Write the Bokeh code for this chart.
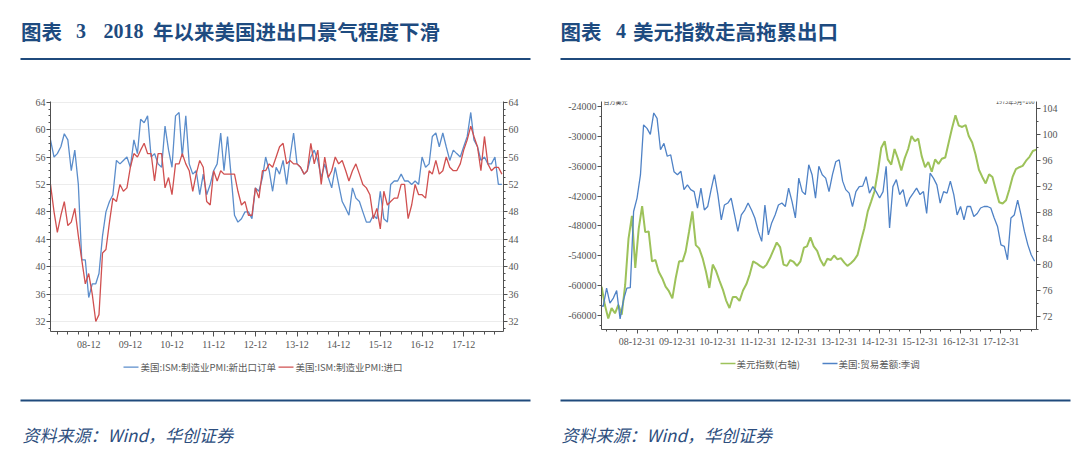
import pandas as pd
from datetime import datetime
from bokeh.plotting import figure
from bokeh.layouts import column, row
from bokeh.models import (Range1d, LinearAxis, FixedTicker, DatetimeTickFormatter,
                          NumeralTickFormatter, Label)
from bokeh.core.properties import value
from bokeh.embed import file_html
from bokeh.resources import INLINE

# ---------------- data ----------------
# Left chart: US ISM manufacturing PMI sub-indices, monthly Jan 2008 - Nov 2018
ism_new_export = [
    58.5, 56, 56.5, 57.5, 59.4, 58.5, 54, 57, 52, 41, 41, 35.5,
    37.5, 37.5, 39, 44.5, 48, 49.5, 50.5, 55.5, 55, 55.5, 56, 54.5,
    58.5, 56.5, 61.5, 61, 62, 56, 56.5, 55, 54.5, 60.5, 57, 54.5,
    62, 62.5, 56, 62, 55, 53.5, 54, 50.5, 53.5, 50.5, 52, 54,
    55, 59.5, 54, 59, 53.5, 47.5, 46.5, 47, 48, 48, 47, 51.5,
    51, 53, 56, 54, 51, 54.5, 53.5, 55.5, 52, 56, 59.5, 55,
    54.5, 53.5, 54, 56, 57, 55.5, 53, 55, 53, 51.5, 54.5, 52,
    49.5, 48.5, 47.5, 51.5, 50, 49.5, 48, 46.5, 46.5, 47.5, 47, 51,
    47, 46.5, 52, 52.5, 52.5, 53.5, 52.5, 52.5, 52, 52.5, 52, 56,
    54.5, 55, 59, 59.5, 57.5, 59.5, 57.5, 55.5, 57, 56.5, 56, 57.5,
    59, 62.5, 58.5, 57.5, 55.5, 56, 55, 55, 56, 52, 52]
ism_imports = [
    52, 48, 45, 47.5, 49.5, 46, 46.5, 48.5, 44.5, 41, 37.5, 39,
    36, 32, 33, 42, 42.5, 46.5, 50, 49.5, 52, 51, 51.5, 54.5,
    56.5, 56, 57, 58, 56.5, 56.5, 52.5, 56.5, 56.5, 51.5, 53, 50.5,
    55, 55, 56.5, 55, 54, 51, 53.5, 55.5, 54.5, 49.5, 49, 54,
    52.5, 54, 53.5, 53.5, 53.5, 53.5, 51, 49, 49.5, 47.5, 47.5, 51.5,
    50, 54, 54, 55, 54.5, 56, 57.5, 58, 55, 55.5, 55, 55,
    54.5, 53.5, 54, 58, 55, 57, 52, 56, 53, 54, 56, 55,
    55.5, 54, 52.5, 54, 55, 53.5, 52, 51.5, 50.5, 47, 48.5, 45.5,
    51, 49, 49.5, 50, 50, 52, 52, 47, 49, 52, 50.5, 50.5,
    50, 54, 53.5, 55.5, 53.5, 54, 56, 54.5, 54, 54, 55, 57,
    58.5, 60.5, 59, 57.5, 54, 59, 55, 54, 54.5, 54.5, 53.5]
ism_start = "2008-01-01"

# Right chart: US trade balance (SA, USD mn), month-end Jan 2008 - Oct 2018
trade_balance = [
    -63850, -64200, -60500, -63500, -62500, -61000, -66700, -62850, -60500, -60400, -45100, -42400,
    -37700, -27700, -28400, -29600, -25300, -26400, -32700, -31400, -34000, -33700, -37100, -37700,
    -37000, -40700, -39750, -40700, -41100, -44400, -40400, -44800, -44100, -40700, -37700, -41700,
    -46800, -43800, -43400, -42400, -45800, -49100, -45800, -44800, -43400, -44800, -46400, -49100,
    -51100, -43800, -49800, -47400, -45800, -43800, -43400, -44100, -40400, -43100, -46400, -38400,
    -41100, -41700, -35700, -37700, -42400, -36000, -37700, -38400, -41100, -37700, -35100, -34700,
    -39000, -40700, -41400, -44100, -41100, -40100, -40000, -38100, -41400, -40100, -41100, -42400,
    -41100, -36000, -48400, -40100, -38700, -41700, -40700, -44100, -42400, -41400, -40400, -41700,
    -41100, -45500, -37400, -38400, -39750, -43400, -41100, -41400, -39000, -41700, -45800, -44100,
    -46800, -44100, -44100, -46100, -45500, -44400, -44100, -44100, -44400, -46400, -48100, -51800,
    -52100, -54800, -46400, -45800, -42800, -45800, -49100, -51800, -53800, -55100]
trade_start = "2008-01-01"

# US dollar index (1973-03 = 100), mid-month Feb 2008 - Nov 2018
usd_index = [
    76.6, 73.8, 71.7, 73.3, 72.5, 73.8, 72.3, 76.9, 84, 87.5, 79.5, 85.5,
    89, 85, 85.1, 80.5, 80.7, 78.9, 77.9, 76.6, 75.9, 74.8, 77.9, 80.5,
    80.5, 82, 85.1, 88.2, 83, 82.5, 81, 78.9, 76.4, 80, 79, 77.5,
    76.1, 74.5, 73.3, 75, 75, 74.4, 76, 77, 78.5, 80.5, 80.2, 79.8,
    79.5, 80, 81, 82.2, 83.4, 82.7, 80, 79.8, 80.7, 80.4, 79.8, 80.5,
    82.6, 82.8, 84.2, 82.8, 82.1, 80.7, 79.8, 80.9, 80.7, 81.4, 80.8, 81,
    80.3, 79.8, 80.2, 80.7, 81.5, 83.6, 85.6, 88.2, 89.7, 91.3, 94.3, 98,
    99, 96.2, 95.4, 97.8, 96.3, 94.5, 96.4, 97.8, 99.8, 99, 99.4, 96.7,
    95, 95.8, 94.3, 96.2, 95.5, 96.3, 96.5, 98.8, 101, 103, 101.4, 101.2,
    101.5, 99.8, 98.8, 97, 94.6, 93.5, 92.5, 93.9, 93.5, 91.5, 89.6, 89.4,
    89.9, 91.5, 93.5, 94.7, 95, 95.2, 96, 96.6, 97.5, 97.7]
usd_start = "2008-02-01"

left_yticks = [32, 36, 40, 44, 48, 52, 56, 60, 64]
tb_ticks = [-66000, -60000, -54000, -48000, -42000, -36000, -30000, -24000]
usd_ticks = [72, 76, 80, 84, 88, 92, 96, 100, 104]
tick_years = list(range(2008, 2018))

title_left = ["图表", "3", "2018", "年以来美国进出口景气程度下滑"]
title_right = ["图表", "4", "美元指数走高拖累出口"]
legend_left = ["美国:ISM:制造业PMI:新出口订单", "美国:ISM:制造业PMI:进口"]
legend_right = ["美元指数(右轴)", "美国:贸易差额:季调"]
source_text = "资料来源：Wind，华创证券"
unit_left = "百万美元"
unit_right = "1973年3月=100"

# ---------------- styles ----------------
BLUE = "#5B8DCB"
RED = "#D05050"
GREEN = "#9DC25A"
BLUE2 = "#4F82C6"
NAVY = "#1E4B80"
RULE = "#1F4A7C"
SRC = "#2D4E7E"
AXIS = "#505050"
LBL = "#555555"
TICK_FONT = "Liberation Sans Narrow"
CJK = "Noto Sans CJK SC"

ism_dates = pd.date_range(ism_start, periods=len(ism_new_export), freq="MS")
trade_dates = pd.date_range(trade_start, periods=len(trade_balance), freq="MS") + pd.offsets.MonthEnd(0)
usd_dates = pd.date_range(usd_start, periods=len(usd_index), freq="MS") + pd.Timedelta(days=14)


def ms(s):
    return pd.Timestamp(s).value / 1e6


def style_axis(ax, ticks, minor, tick_out=4, minor_out=2, standoff=2):
    ax.ticker = FixedTicker(ticks=ticks, minor_ticks=minor)
    ax.major_label_text_font = TICK_FONT
    ax.major_label_text_font_size = "10px"
    ax.major_label_text_color = LBL
    ax.axis_line_color = AXIS
    ax.major_tick_line_color = AXIS
    ax.minor_tick_line_color = AXIS
    ax.major_tick_in = 0
    ax.minor_tick_in = 0
    ax.major_tick_out = tick_out
    ax.minor_tick_out = minor_out
    ax.major_label_standoff = standoff


# ---------------- left chart ----------------
ly0, ly1 = 30.54, 64.1
pL = figure(frame_width=453, frame_height=230, min_border_left=50, min_border_right=37,
            min_border_top=11, min_border_bottom=25, x_axis_type="datetime",
            x_range=Range1d(datetime(2008, 1, 1), datetime(2018, 11, 15)),
            y_range=Range1d(ly0, ly1), toolbar_location=None, output_backend="svg",
            outline_line_color=None, background_fill_color="white", border_fill_color="white")
pL.extra_y_ranges = {"r": Range1d(ly0, ly1)}
pL.add_layout(LinearAxis(y_range_name="r"), "right")
pL.line(ism_dates, ism_new_export, color=BLUE, line_width=1.3)
pL.line(ism_dates, ism_imports, color=RED, line_width=1.3)

minor_l = list(range(31, 65))
for ax in pL.yaxis:
    style_axis(ax, left_yticks, minor_l, tick_out=4, minor_out=2, standoff=1)
xmaj = [ms(f"{y}-12-01") for y in tick_years]
xmin = [ms(f"{y}-{m:02d}-01") for y in range(2008, 2019) for m in (3, 6, 9, 12)]
style_axis(pL.xaxis[0], xmaj, xmin, tick_out=5, minor_out=3, standoff=4)
pL.xaxis[0].formatter = DatetimeTickFormatter(years="%y-%m", months="%y-%m", days="%y-%m",
                                              hours="%y-%m", minutes="%y-%m")
pL.xgrid.visible = False
pL.ygrid.ticker = FixedTicker(ticks=left_yticks)
pL.ygrid.grid_line_color = "#ececec"

# ---------------- right chart ----------------
pR = figure(frame_width=435, frame_height=228, min_border_left=61, min_border_right=44,
            min_border_top=10, min_border_bottom=28, x_axis_type="datetime",
            x_range=Range1d(datetime(2008, 2, 14), datetime(2018, 11, 17)),
            y_range=Range1d(-68813, -22995), toolbar_location=None, output_backend="svg",
            outline_line_color=None, background_fill_color="white", border_fill_color="white")
pR.extra_y_ranges = {"usd": Range1d(70.0, 105.12)}
pR.add_layout(LinearAxis(y_range_name="usd"), "right")
pR.line(usd_dates, usd_index, y_range_name="usd", color=GREEN, line_width=2)
pR.line(trade_dates, trade_balance, color=BLUE2, line_width=1.3)

style_axis(pR.yaxis[0], tb_ticks, list(range(-68000, -22000, 2000)), tick_out=4, minor_out=2, standoff=1)
pR.yaxis[0].formatter = NumeralTickFormatter(format="0")
style_axis(pR.yaxis[1], usd_ticks, list(range(70, 106, 2)), tick_out=4, minor_out=2, standoff=2)
rmaj = [ms(f"{y}-12-31") for y in tick_years]
rmin = [ms(f"{y}-{md}") for y in range(2008, 2019) for md in ("03-31", "06-30", "09-30", "12-31")]
style_axis(pR.xaxis[0], rmaj, rmin, tick_out=4, minor_out=2, standoff=4)
pR.xaxis[0].formatter = DatetimeTickFormatter(years="%y-%m-%d", months="%y-%m-%d", days="%y-%m-%d",
                                              hours="%y-%m-%d", minutes="%y-%m-%d")
pR.xgrid.visible = False
pR.ygrid.visible = False
pR.add_layout(Label(x=2, y=228, x_units="screen", y_units="screen", text=unit_left,
                    text_font=CJK, text_font_size="6px", text_color="#333333",
                    text_baseline="middle", text_align="left"))
pR.add_layout(Label(x=433, y=228, x_units="screen", y_units="screen", text=unit_right,
                    text_font=CJK, text_font_size="5.5px", text_color="#333333",
                    text_baseline="middle", text_align="right"))


# ---------------- header / footer (page-pixel coordinates) ----------------
def deco(height, y_top):
    p = figure(width=1080, height=height, x_range=Range1d(0, 1080),
               y_range=Range1d(y_top + height, y_top), min_border=0,
               toolbar_location=None, output_backend="svg", x_axis_type=None,
               y_axis_type=None, outline_line_color=None,
               background_fill_color="white", border_fill_color="white")
    return p


head = deco(90, 0)
cjk_b = dict(text_font=value(CJK), text_font_style="bold", text_font_size="20.5px",
             text_color=NAVY, text_baseline="middle", text_align="left")
num_b = dict(text_font=value("Liberation Serif"), text_font_style="bold", text_font_size="20px",
             text_color=NAVY, text_baseline="middle", text_align="left")
head.text(x=[20.5, 152.5], y=[30, 30], text=[title_left[0], title_left[3]], **cjk_b)
head.text(x=[75.5, 103], y=[30.5, 30.5], text=[title_left[1], title_left[2]], **num_b)
head.text(x=[560, 632.5], y=[30, 30], text=[title_right[0], title_right[2]], **cjk_b)
head.text(x=[615.5], y=[30.5], text=[title_right[1]], **num_b)
head.segment(x0=[20, 560], y0=[58.5, 58.5], x1=[530, 1070], y1=[58.5, 58.5],
             line_color=RULE, line_width=2)

foot = deco(100, 356)
foot.segment(x0=[123, 278], y0=[366.7, 366.7], x1=[138, 293], y1=[366.7, 366.7],
             line_color=[BLUE, RED], line_width=1.3)
foot.text(x=[140, 295], y=[366.7, 366.7], text=legend_left, text_font=value(CJK),
          text_font_size="9.5px", text_color="#595959", text_baseline="middle", text_align="left")
foot.segment(x0=[720, 822], y0=[363, 363], x1=[735, 837], y1=[363, 363],
             line_color=[GREEN, BLUE2], line_width=1.3)
foot.text(x=[736, 838], y=[363, 363], text=legend_right, text_font=value(CJK),
          text_font_size="9.5px", text_color="#595959", text_baseline="middle", text_align="left")
foot.segment(x0=[20, 560], y0=[400, 400], x1=[530, 1070], y1=[400, 400],
             line_color=RULE, line_width=2)
foot.text(x=[22, 561], y=[434, 434], text=[source_text, source_text], text_font=value(CJK),
          text_font_style="italic", text_font_size="17px", text_color=SRC,
          text_baseline="middle", text_align="left")

layout = column(head, row(pL, pR), foot)
open("out.html", "w").write(file_html(layout, INLINE))
